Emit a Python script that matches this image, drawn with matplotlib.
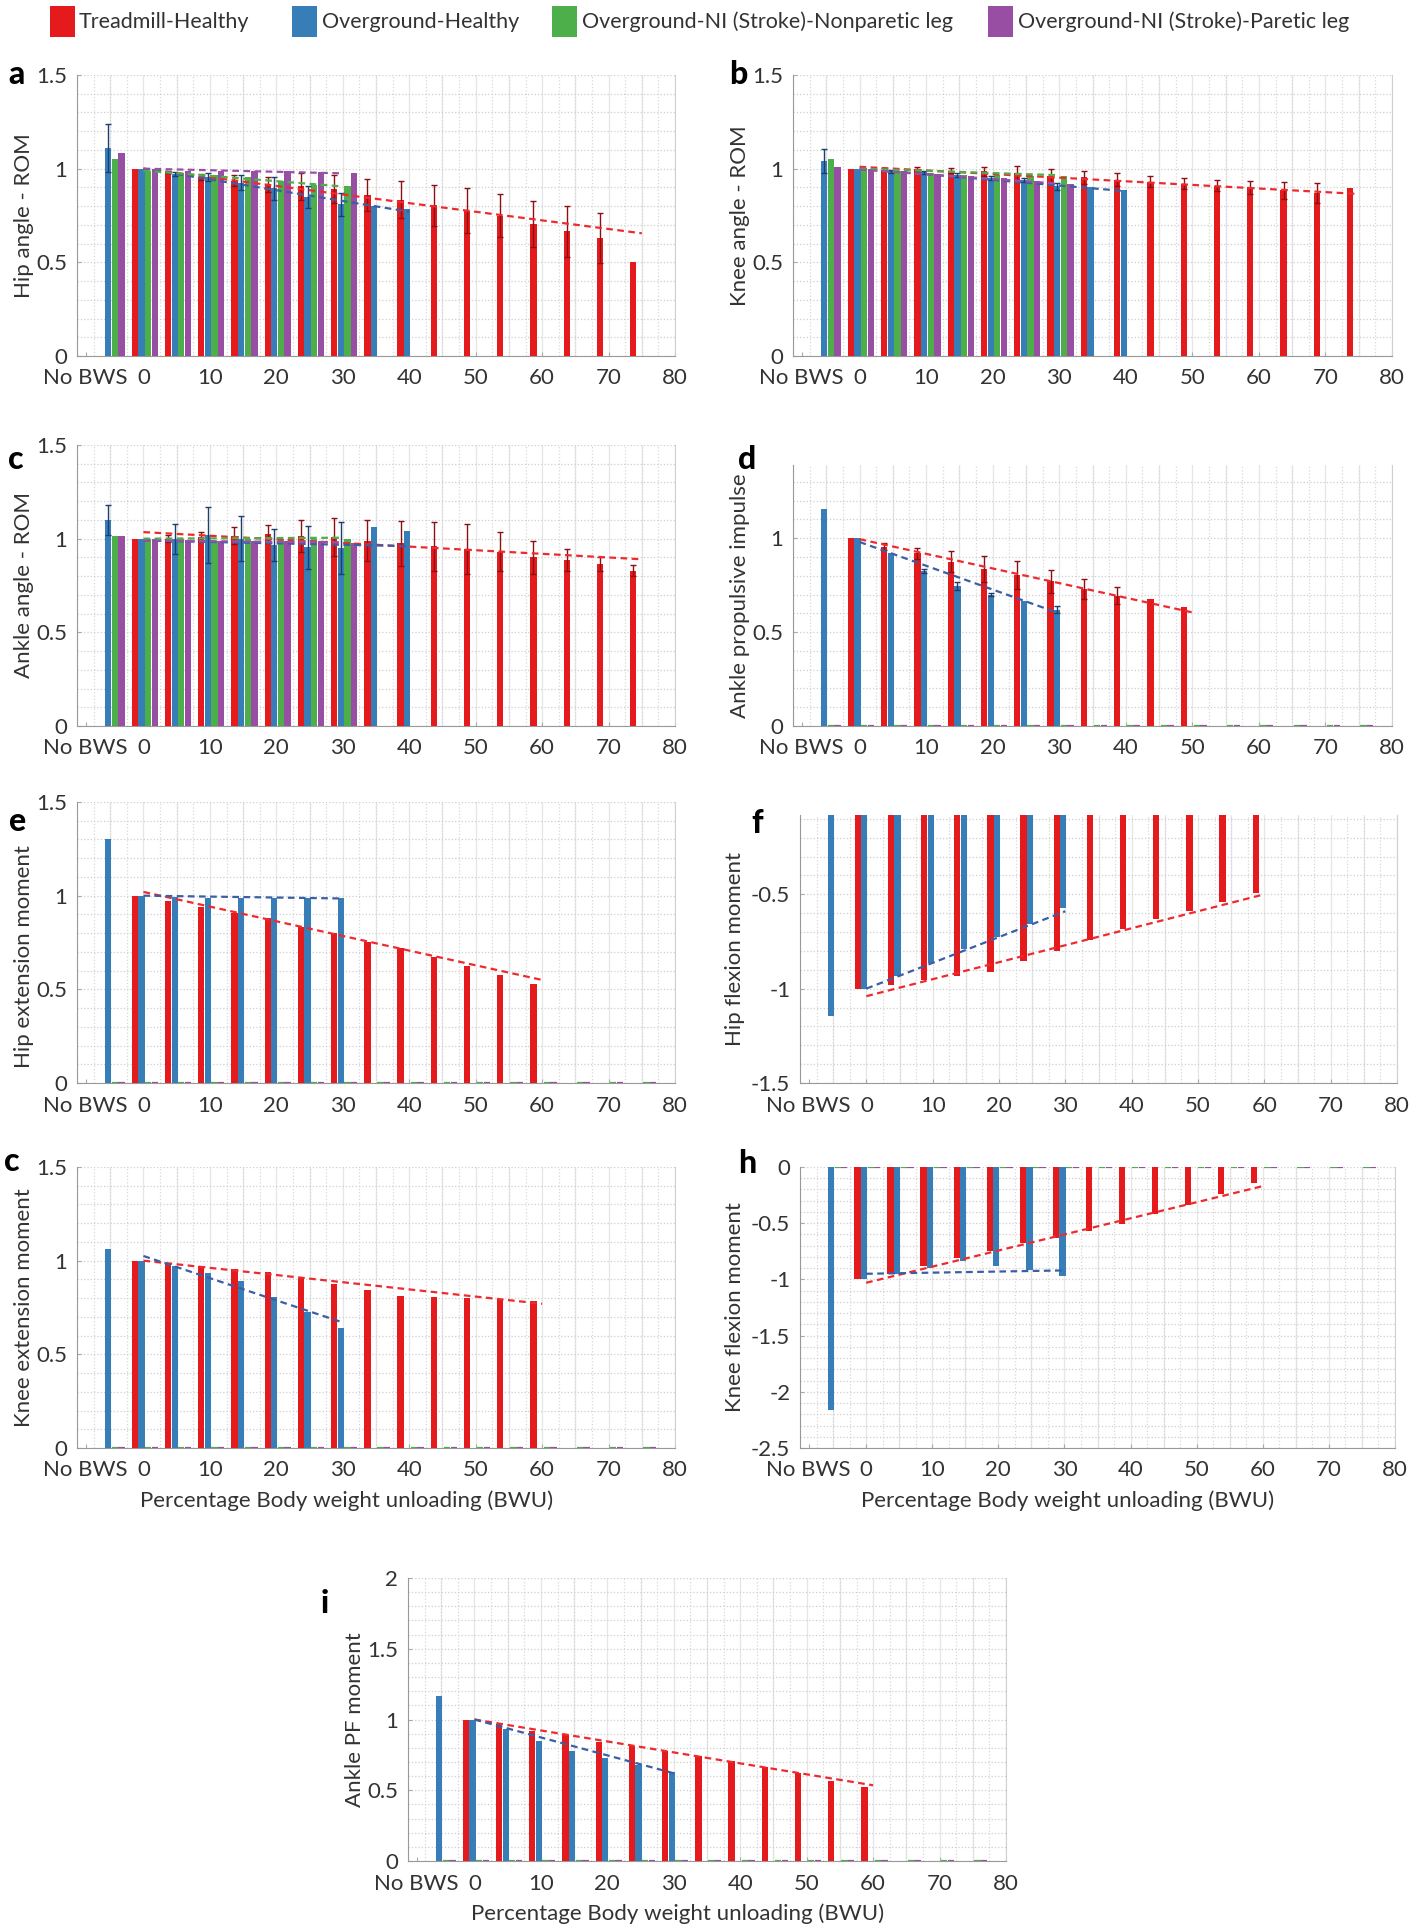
import numpy as np
import matplotlib
matplotlib.use('Agg')
import matplotlib.pyplot as plt
from matplotlib.ticker import MultipleLocator
from matplotlib.patches import Rectangle

plt.rcParams['font.family'] = ['Lato', 'DejaVu Sans']

nan = np.nan

# ---------------- data ----------------
series_names = ['Treadmill-Healthy', 'Overground-Healthy',
                'Overground-NI (Stroke)-Nonparetic leg', 'Overground-NI (Stroke)-Paretic leg']
bwu_levels = [0, 5, 10, 15, 20, 25, 30, 35, 40, 45, 50, 55, 60, 65, 70, 75]
x_tick_labels = ['No BWS', '0', '10', '20', '30', '40', '50', '60', '70', '80']
x_tick_values = [0, 10, 20, 30, 40, 50, 60, 70, 80]

# (a) Hip angle ROM  -- first entry = No BWS
hip_rom_red = [nan, 1.0, 0.98, 0.955, 0.935, 0.915, 0.905, 0.89, 0.86, 0.835, 0.805, 0.775, 0.75, 0.705, 0.665, 0.63, 0.5]
hip_rom_red_err = [0, 0, 0.005, 0.015, 0.03, 0.04, 0.07, 0.075, 0.085, 0.1, 0.11, 0.12, 0.115, 0.125, 0.135, 0.135, 0]
hip_rom_blue = [1.11, 1.0, 0.97, 0.955, 0.925, 0.895, 0.85, 0.81, 0.80, 0.785]
hip_rom_blue_err = [0.13, 0, 0.01, 0.02, 0.04, 0.06, 0.06, 0.06, 0, 0]
hip_rom_green = [1.05, 0.99, 0.975, 0.965, 0.955, 0.935, 0.915, 0.905]
hip_rom_purple = [1.085, 1.0, 0.99, 0.99, 0.985, 0.985, 0.98, 0.975]
hip_rom_trends = {'red': (75, 1.0, 0.655), 'blue': (40, 1.0, 0.77),
                  'green': (30, 0.99, 0.905), 'purple': (30, 1.0, 0.975)}

# (b) Knee angle ROM
knee_rom_red = [nan, 1.0, 0.995, 1.0, 0.99, 0.985, 0.975, 0.96, 0.955, 0.94, 0.93, 0.92, 0.91, 0.9, 0.885, 0.87, 0.895]
knee_rom_red_err = [0, 0, 0.01, 0.01, 0.015, 0.025, 0.04, 0.04, 0.035, 0.035, 0.03, 0.03, 0.03, 0.035, 0.045, 0.055, 0]
knee_rom_blue = [1.04, 1.0, 0.985, 0.98, 0.965, 0.95, 0.94, 0.905, 0.9, 0.885]
knee_rom_blue_err = [0.065, 0, 0.01, 0.01, 0.01, 0.01, 0.01, 0.02, 0, 0]
knee_rom_green = [1.05, 1.005, 0.99, 0.975, 0.965, 0.965, 0.96, 0.96]
knee_rom_purple = [1.01, 1.0, 0.985, 0.97, 0.96, 0.95, 0.935, 0.92]
knee_rom_trends = {'red': (75, 1.01, 0.865), 'blue': (40, 1.0, 0.88),
                   'green': (30, 1.0, 0.965), 'purple': (30, 0.995, 0.92)}

# (c) Ankle angle ROM
ankle_rom_red = [nan, 1.0, 1.0, 1.01, 1.015, 1.025, 1.015, 1.01, 0.99, 0.975, 0.96, 0.945, 0.93, 0.9, 0.885, 0.865, 0.83]
ankle_rom_red_err = [0, 0, 0.02, 0.025, 0.045, 0.05, 0.085, 0.1, 0.11, 0.12, 0.13, 0.135, 0.105, 0.09, 0.06, 0.035, 0.03]
ankle_rom_blue = [1.1, 1.0, 1.0, 1.02, 1.0, 0.965, 0.955, 0.95, 1.06, 1.04]
ankle_rom_blue_err = [0.08, 0, 0.08, 0.15, 0.12, 0.085, 0.115, 0.14, 0, 0]
ankle_rom_green = [1.015, 1.0, 1.0, 0.99, 1.0, 1.0, 1.0, 1.0]
ankle_rom_purple = [1.015, 1.0, 0.995, 0.99, 0.985, 0.985, 0.985, 0.975]
ankle_rom_trends = {'red': (75, 1.035, 0.89), 'blue': (40, 0.99, 0.96),
                    'green': (30, 1.0, 1.005), 'purple': (30, 0.99, 0.98)}

# (d) Ankle propulsive impulse
ankle_imp_red = [nan, 1.0, 0.955, 0.92, 0.875, 0.835, 0.805, 0.77, 0.73, 0.695, 0.675, 0.635]
ankle_imp_red_err = [0, 0, 0.02, 0.03, 0.055, 0.07, 0.075, 0.06, 0.055, 0.045, 0, 0]
ankle_imp_blue = [1.155, 1.0, 0.92, 0.825, 0.745, 0.7, 0.665, 0.62]
ankle_imp_blue_err = [0, 0, 0, 0.01, 0.02, 0.01, 0, 0.02]
ankle_imp_trends = {'red': (50, 0.995, 0.605), 'blue': (30, 0.98, 0.6)}

# (e) Hip extension moment
hip_ext_red = [nan, 1.0, 0.97, 0.94, 0.91, 0.88, 0.835, 0.8, 0.755, 0.72, 0.67, 0.625, 0.575, 0.53]
hip_ext_blue = [1.3, 1.0, 0.995, 0.99, 0.99, 0.99, 0.99, 0.99]
hip_ext_trends = {'red': (60, 1.02, 0.55), 'blue': (30, 1.0, 0.985)}

# (f) Hip flexion moment
hip_flex_red = [nan, -1.0, -0.98, -0.955, -0.935, -0.91, -0.855, -0.8, -0.74, -0.685, -0.63, -0.59, -0.54, -0.495]
hip_flex_blue = [-1.145, -1.0, -0.935, -0.865, -0.79, -0.725, -0.655, -0.575]
hip_flex_trends = {'red': (60, -1.04, -0.5), 'blue': (30, -1.0, -0.59)}

# (g) Knee extension moment
knee_ext_red = [nan, 1.0, 0.985, 0.97, 0.955, 0.94, 0.91, 0.875, 0.845, 0.81, 0.805, 0.8, 0.795, 0.785]
knee_ext_blue = [1.06, 1.0, 0.973, 0.932, 0.89, 0.808, 0.725, 0.64]
knee_ext_trends = {'red': (60, 1.0, 0.77), 'blue': (30, 1.025, 0.67)}

# (h) Knee flexion moment
knee_flex_red = [nan, -1.0, -0.955, -0.882, -0.814, -0.749, -0.68, -0.63, -0.571, -0.509, -0.42, -0.334, -0.237, -0.142]
knee_flex_blue = [-2.16, -1.0, -0.95, -0.896, -0.834, -0.879, -0.917, -0.967]
knee_flex_trends = {'red': (60, -1.03, -0.17), 'blue': (30, -0.95, -0.92)}

# (i) Ankle PF moment
ankle_pf_red = [nan, 1.0, 0.967, 0.922, 0.887, 0.844, 0.816, 0.778, 0.745, 0.71, 0.665, 0.62, 0.565, 0.52]
ankle_pf_blue = [1.167, 1.0, 0.93, 0.85, 0.774, 0.731, 0.68, 0.63]
ankle_pf_trends = {'red': (60, 1.0, 0.535), 'blue': (30, 1.0, 0.62)}

zeros_stroke = [0.0] * 17  # stroke groups not measured for moments / impulse

# ---------------- style ----------------
W, H = 1416, 1930
fig = plt.figure(figsize=(W / 100, H / 100), dpi=100)

C = {'red': '#e41a1c', 'blue': '#377eb8', 'green': '#4daf4a', 'purple': '#984ea3'}
TREND = {'red': '#ee2a2f', 'blue': '#3b5ea6', 'green': '#4daf4a', 'purple': '#9a50a8'}
ERR = {'red': '#8a1014', 'blue': '#1d3f6e'}
OFF = {'red': -1.3, 'blue': -0.3, 'green': 0.7, 'purple': 1.7}
BW = 0.95
FS = 16
TXT = '#333333'

group_pos = np.array([-5.0] + bwu_levels)


def add_ax(l, t, r, b):
    return fig.add_axes([l / W, 1 - b / H, (r - l) / W, (b - t) / H])


def style(ax, ylim, yticks, ylabel, letter, letter_xy, xlabel=False, ylab_shift=0, ylab_x=-43):
    ax.set_xlim(-10, 80)
    ax.set_ylim(*ylim)
    ax.set_xticks([-8.7] + x_tick_values)
    ax.set_xticklabels(x_tick_labels)
    ax.set_yticks(yticks)
    ax.set_yticklabels(['%g' % v for v in yticks])
    ax.yaxis.set_minor_locator(MultipleLocator(0.1))
    ax.xaxis.set_minor_locator(MultipleLocator(2.5))
    ax.tick_params(which='major', direction='in', length=3, color='#aaaaaa',
                   labelsize=FS, labelcolor=TXT, pad=7)
    ax.tick_params(axis='x', which='major', pad=9)
    ax.tick_params(which='minor', length=0)
    ax.grid(which='both', axis='y', color='#cfcfcf', linestyle=':', linewidth=0.9, zorder=0)
    ax.grid(which='minor', axis='x', color='#d8d8d8', linestyle=':', linewidth=0.9, zorder=0)
    for xv in range(-5, 81, 5):
        ax.axvline(xv, color='#e6e6e6', linewidth=0.9, zorder=0)
    ax.set_axisbelow(True)
    ax.spines['top'].set_visible(False)
    ax.spines['right'].set_color('#d0d0d0')
    ax.spines['left'].set_color('#999999')
    ax.spines['bottom'].set_color('#999999')
    bb = ax.get_position()
    wpx = bb.width * W
    hpx = bb.height * H
    ax.set_ylabel(ylabel, fontsize=FS, color=TXT)
    ax.yaxis.set_label_coords(ylab_x / wpx, 0.5 - ylab_shift / hpx)
    if xlabel:
        ax.set_xlabel('Percentage Body weight unloading (BWU)', fontsize=FS, color=TXT)
        ax.xaxis.set_label_coords(0.45, -42 / hpx)
    fig.text(letter_xy[0] / W, 1 - letter_xy[1] / H, letter, fontsize=23,
             fontweight='black', ha='left', va='baseline', color='black')


def bars(ax, key, vals, err=None, zero=False):
    vals = np.asarray(vals, dtype=float)
    x = group_pos[:len(vals)] + OFF[key]
    if zero:
        ax.bar(x, vals, width=BW, color=C[key], edgecolor=C[key], linewidth=1.6, zorder=3)
        return
    ax.bar(x, vals, width=BW, color=C[key], linewidth=0, zorder=3)
    if err is not None:
        err = np.asarray(err, dtype=float)
        m = err > 0
        ax.errorbar(x[m], vals[m], yerr=err[m], fmt='none', ecolor=ERR[key],
                    elinewidth=1.0, capsize=2, capthick=1.0, zorder=4)


def trends(ax, tr):
    for key, (xend, y0, y1) in tr.items():
        ax.plot([0, xend], [y0, y1], linestyle=(0, (3, 2)), color=TREND[key],
                linewidth=1.6, zorder=5)


# ---------------- panels ----------------
rom_ticks = [0, 0.5, 1, 1.5]
LX0, LX1 = 77, 675
RX0, RX1 = 793, 1392

ax = add_ax(LX0, 75, LX1, 356)
bars(ax, 'red', hip_rom_red, hip_rom_red_err)
bars(ax, 'blue', hip_rom_blue, hip_rom_blue_err)
bars(ax, 'green', hip_rom_green)
bars(ax, 'purple', hip_rom_purple)
trends(ax, hip_rom_trends)
style(ax, (0, 1.5), rom_ticks, 'Hip angle - ROM', 'a', (8, 84))

ax = add_ax(RX0, 75, RX1, 356)
bars(ax, 'red', knee_rom_red, knee_rom_red_err)
bars(ax, 'blue', knee_rom_blue, knee_rom_blue_err)
bars(ax, 'green', knee_rom_green)
bars(ax, 'purple', knee_rom_purple)
trends(ax, knee_rom_trends)
style(ax, (0, 1.5), rom_ticks, 'Knee angle - ROM', 'b', (729, 84))

ax = add_ax(LX0, 445, LX1, 726)
bars(ax, 'red', ankle_rom_red, ankle_rom_red_err)
bars(ax, 'blue', ankle_rom_blue, ankle_rom_blue_err)
bars(ax, 'green', ankle_rom_green)
bars(ax, 'purple', ankle_rom_purple)
trends(ax, ankle_rom_trends)
style(ax, (0, 1.5), rom_ticks, 'Ankle angle - ROM', 'c', (8, 469))

ax = add_ax(RX0, 465, RX1, 726)
bars(ax, 'red', ankle_imp_red, ankle_imp_red_err)
bars(ax, 'blue', ankle_imp_blue, ankle_imp_blue_err)
bars(ax, 'green', zeros_stroke, zero=True)
bars(ax, 'purple', zeros_stroke, zero=True)
trends(ax, ankle_imp_trends)
style(ax, (0, 1.39), [0, 0.5, 1], 'Ankle propulsive impulse', 'd', (738, 469))

ax = add_ax(LX0, 802, LX1, 1083)
bars(ax, 'red', hip_ext_red)
bars(ax, 'blue', hip_ext_blue)
bars(ax, 'green', zeros_stroke, zero=True)
bars(ax, 'purple', zeros_stroke, zero=True)
trends(ax, hip_ext_trends)
style(ax, (0, 1.5), rom_ticks, 'Hip extension moment', 'e', (8, 831), ylab_shift=14)

ax = add_ax(800, 815, 1397, 1083)
bars(ax, 'red', hip_flex_red)
bars(ax, 'blue', hip_flex_blue)
trends(ax, hip_flex_trends)
style(ax, (-1.5, -0.08), [-1.5, -1, -0.5], 'Hip flexion moment', 'f', (751, 833), ylab_x=-55)

ax = add_ax(LX0, 1167, LX1, 1448)
bars(ax, 'red', knee_ext_red)
bars(ax, 'blue', knee_ext_blue)
bars(ax, 'green', zeros_stroke, zero=True)
bars(ax, 'purple', zeros_stroke, zero=True)
trends(ax, knee_ext_trends)
style(ax, (0, 1.5), rom_ticks, 'Knee extension moment', 'c', (4, 1171), xlabel=True)

ax = add_ax(800, 1167, 1395, 1448)
bars(ax, 'red', knee_flex_red)
bars(ax, 'blue', knee_flex_blue)
bars(ax, 'green', zeros_stroke, zero=True)
bars(ax, 'purple', zeros_stroke, zero=True)
trends(ax, knee_flex_trends)
style(ax, (-2.5, 0), [-2.5, -2, -1.5, -1, -0.5, 0], 'Knee flexion moment', 'h', (738, 1173),
      xlabel=True, ylab_x=-55)

ax = add_ax(408, 1578, 1006, 1861)
bars(ax, 'red', ankle_pf_red)
bars(ax, 'blue', ankle_pf_blue)
bars(ax, 'green', zeros_stroke, zero=True)
bars(ax, 'purple', zeros_stroke, zero=True)
trends(ax, ankle_pf_trends)
style(ax, (0, 2), [0, 0.5, 1, 1.5, 2], 'Ankle PF moment', 'i', (321, 1613), xlabel=True)

# ---------------- legend ----------------
leg_items = [('red', 50, 79), ('blue', 292, 322), ('green', 552, 582), ('purple', 988, 1018)]
for (key, px, tx), name in zip(leg_items, series_names):
    fig.patches.append(Rectangle((px / W, 1 - 37 / H), 25 / W, 31 / H, transform=fig.transFigure,
                                 facecolor=C[key], edgecolor='none'))
    fig.text(tx / W, 1 - 22 / H, name, fontsize=15.5, color=TXT, ha='left', va='center')

fig.savefig('out.png', dpi=100)
